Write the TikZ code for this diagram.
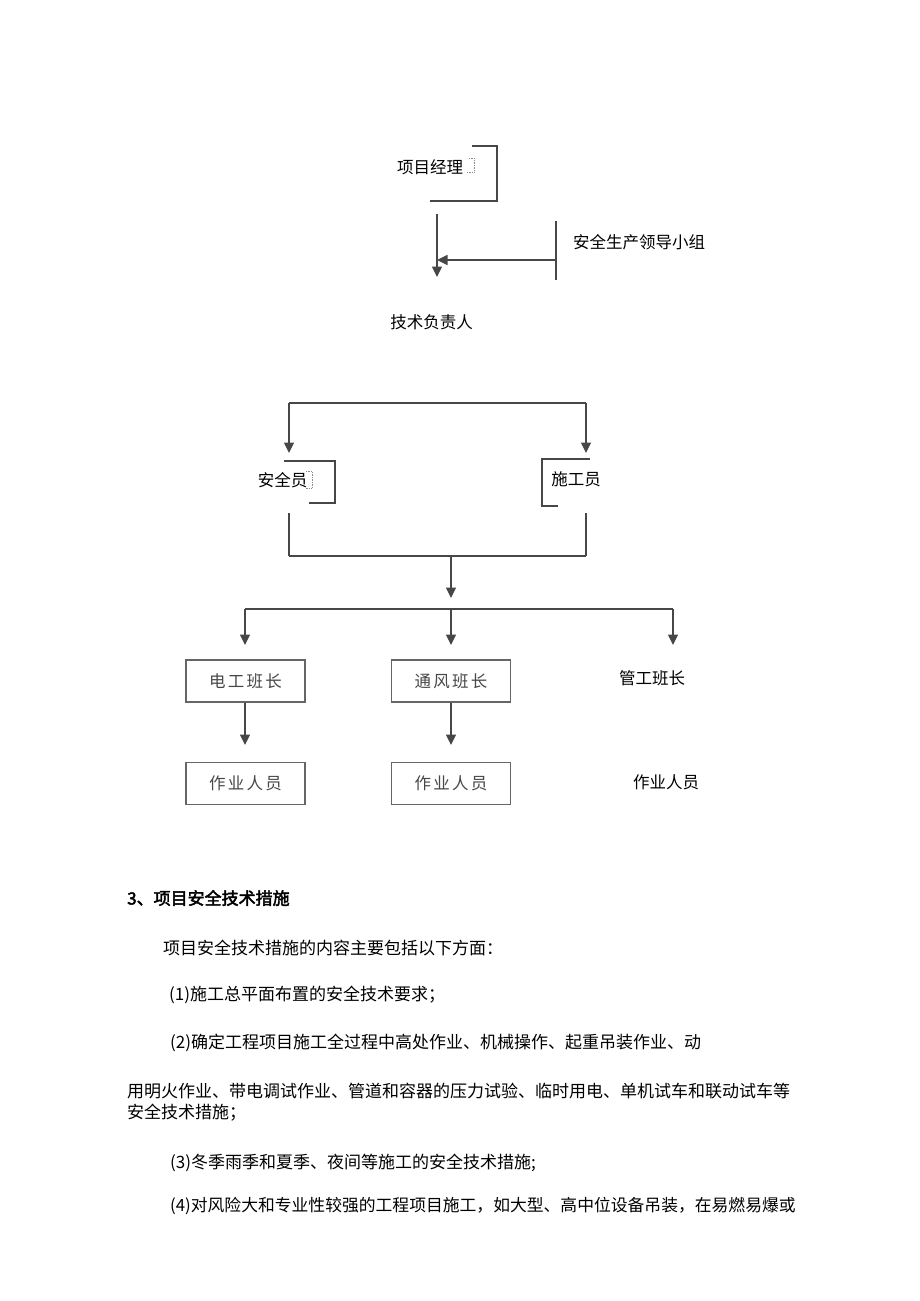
\documentclass[tikz,border=0pt]{standalone}
\usepackage{fontspec}
\setmainfont{Liberation Sans}
\newfontfamily\cjk{Noto Sans CJK SC}
\newfontfamily\cjkbold[FakeBold=2.5]{Noto Sans CJK SC}
\newfontfamily\cjkls[LetterSpace=14]{Noto Sans CJK SC}
\usetikzlibrary{arrows.meta}
\tikzset{
  conn/.style={draw=black!72, line width=1.2pt},
  arr/.style={conn, -{Triangle[length=10.5pt,width=10pt]}},
  lbl/.style={font=\cjk\fontsize{16.5}{18}\selectfont, inner sep=0pt},
  body/.style={font=\cjk\fontsize{17}{19}\selectfont, inner sep=0pt, anchor=west},
  boxnode/.style={draw=black!60, line width=1.2pt, minimum width=119pt, minimum height=42pt,
     inner sep=0pt, font=\cjkls\fontsize{16.5}{18}\selectfont, text=black!72},
  residue/.style={draw=black!45, densely dotted, line width=0.7pt},
}
\begin{document}
\begin{tikzpicture}[x=1pt,y=-1pt]
\fill[white] (0,0) rectangle (920,1301);
\useasboundingbox (0,0) rectangle (920,1301);

% ---- top part ----
\node[lbl] (pm) at (430,167) {项目经理};
\node[lbl] (grp) at (639,242) {安全生产领导小组};
\node[lbl] (tech) at (431.5,322) {技术负责人};

\draw[conn] (472,146) -- (497,146) -- (497,201) -- (430,201);
\draw[residue] (469,158) -- (474,158) -- (474,172) -- (467,172);

\coordinate (a1s) at (437,214);
\coordinate (a1e) at (437,277);
\draw[arr] (a1s) -- (a1e);

\coordinate (g1) at (556,221);
\coordinate (g2) at (556,280);
\coordinate (gm) at (556,260);
\coordinate (gt) at (437,260);
\draw[conn] (g1) -- (g2);
\draw[arr] (gm) -- (gt);

% ---- split to safety officer / construction officer ----
\node[lbl] (aqy) at (282.5,480) {安全员};
\node[lbl] (sgy) at (576,479) {施工员};

\coordinate (sL) at (289,403);
\coordinate (sR) at (586,403);
\coordinate (sLe) at (289,453);
\coordinate (sRe) at (586,453);
\draw[conn] (sL) -- (sR);
\draw[arr] (sL) -- (sLe);
\draw[arr] (sR) -- (sRe);

\draw[conn] (284,461) -- (335,461) -- (335,503) -- (309,503);
\draw[residue] (306,471) -- (312,471) -- (312,488) -- (306,488);
\draw[conn] (590,459) -- (542,459) -- (542,506) -- (558,506);

\coordinate (jL1) at (289,513);
\coordinate (jL2) at (289,556);
\coordinate (jR1) at (586,513);
\coordinate (jR2) at (586,556);
\coordinate (jM) at (451,556);
\coordinate (jMe) at (451,598);
\draw[conn] (jL1) -- (jL2);
\draw[conn] (jR1) -- (jR2);
\draw[conn] (jL2) -- (jR2);
\draw[arr] (jM) -- (jMe);

% ---- team leaders ----
\coordinate (bL) at (245,609);
\coordinate (bM) at (451,609);
\coordinate (bR) at (673,609);
\draw[conn] (bL) -- (bR);

\node[boxnode] (dg) at (245.5,681) {电工班长};
\node[boxnode] (tf) at (451,681) {通风班长};
\node[lbl] (gg) at (652,678) {管工班长};

\draw[arr] (bL) -- (245,645);
\draw[arr] (bM) -- (451,645);
\draw[arr] (bR) -- (673,645);

\node[boxnode] (zy1) at (245.5,783.5) {作业人员};
\node[boxnode] (zy2) at (451,783.5) {作业人员};
\node[lbl] (zy3) at (666,782) {作业人员};

\draw[arr] (dg.south -| 245,710) -- (245,745);
\draw[arr] (tf.south -| 451,710) -- (451,745);

% ---- body text ----
\node[body, font=\cjkbold\fontsize{17}{19}\selectfont] (t0) at (127,898) {3、项目安全技术措施};
\node[body] (t1) at (163,948) {项目安全技术措施的内容主要包括以下方面：};
\node[body] (t2) at (169,995) {(1)施工总平面布置的安全技术要求；};
\node[body] (t3) at (170,1043) {(2)确定工程项目施工全过程中高处作业、机械操作、起重吊装作业、动};
\node[body] (t4) at (127,1091) {用明火作业、带电调试作业、管道和容器的压力试验、临时用电、单机试车和联动试车等};
\node[body] (t5) at (127,1113) {安全技术措施；};
\node[body] (t6) at (170,1163) {(3)冬季雨季和夏季、夜间等施工的安全技术措施;};
\node[body, font=\cjk\fontsize{16.8}{19}\selectfont] (t7) at (170,1206) {(4)对风险大和专业性较强的工程项目施工，如大型、高中位设备吊装，在易燃易爆或};
\end{tikzpicture}
\end{document}
